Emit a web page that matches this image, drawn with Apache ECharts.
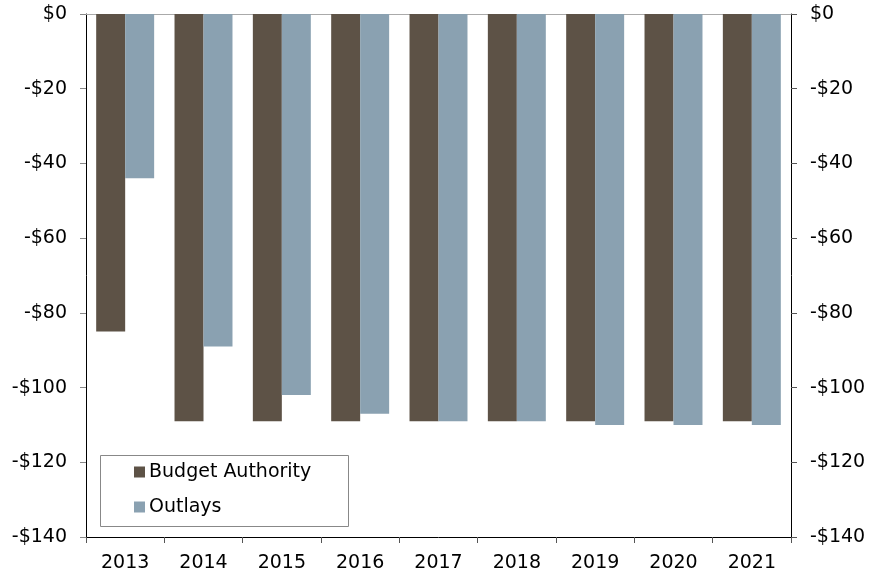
<!DOCTYPE html>
<html>
<head>
<meta charset="utf-8">
<script src="https://cdn.jsdelivr.net/npm/echarts@6/dist/echarts.min.js"></script>
<style>html,body{margin:0;padding:0;background:#fff;}#c{width:883px;height:575px;}</style>
</head>
<body>
<div id="c"></div>
<script>
const years = ['2013','2014','2015','2016','2017','2018','2019','2020','2021'];
const budgetAuthority = [-85, -109, -109, -109, -109, -109, -109, -109, -109];
const outlays = [-44, -89, -102, -107, -109, -109, -110, -110, -110];
const seriesNames = ['Budget Authority', 'Outlays'];

const chart = echarts.init(document.getElementById('c'));
const font = 'DejaVu Sans';
const fs = 19;
const fmt = v => v === 0 ? '$0' : (v < 0 ? '-$' + Math.abs(v) : '$' + v);
const yBase = {
  type: 'value', min: -140, max: 0, interval: 20,
  splitLine: { show: false },
  axisLine: { show: true, lineStyle: { color: '#000', width: 1 } },
  axisTick: { show: true, length: 6, lineStyle: { color: '#888' } },
  axisLabel: { formatter: fmt, color: '#000', fontFamily: font, fontSize: fs, margin: 19 }
};
chart.setOption({
  animation: false,
  grid: { left: 86, right: 92, top: 14, bottom: 38, containLabel: false },
  legend: {
    orient: 'vertical', left: 129, top: 457,
    itemWidth: 11, itemHeight: 11, itemGap: 15,
    icon: 'rect',
    textStyle: { fontFamily: font, fontSize: fs, color: '#000', lineHeight: 20, padding: [0,0,0,-1] },
    data: seriesNames
  },
  graphic: [{
    type: 'rect', left: 98, top: 453, z: 10,
    shape: { width: 248, height: 71 },
    style: { fill: 'none', stroke: '#888', lineWidth: 1 }
  }],
  xAxis: [{
    type: 'category', data: years, position: 'bottom',
    axisLine: { show: true, onZero: false, lineStyle: { color: '#000' } },
    axisTick: { show: true, length: 6, alignWithLabel: false, lineStyle: { color: '#555' } },
    axisLabel: { color: '#000', fontFamily: font, fontSize: fs, margin: 17 }
  }, {
    type: 'category', data: years, position: 'top',
    axisLine: { show: true, onZero: false, lineStyle: { color: '#aaa' } },
    axisTick: { show: false }, axisLabel: { show: false }
  }],
  yAxis: [
    Object.assign({}, yBase, { position: 'left' }),
    Object.assign({}, yBase, { position: 'right', axisTick: { show: true, length: 6, lineStyle: { color: '#555' } } })
  ],
  series: [
    { name: seriesNames[0], type: 'bar', data: budgetAuthority, barGap: '0%', barCategoryGap: '26%',
      itemStyle: { color: '#5D5246' } },
    { name: seriesNames[1], type: 'bar', data: outlays, barGap: '0%', barCategoryGap: '26%',
      itemStyle: { color: '#8AA1B1' } }
  ]
});
</script>
</body>
</html>
